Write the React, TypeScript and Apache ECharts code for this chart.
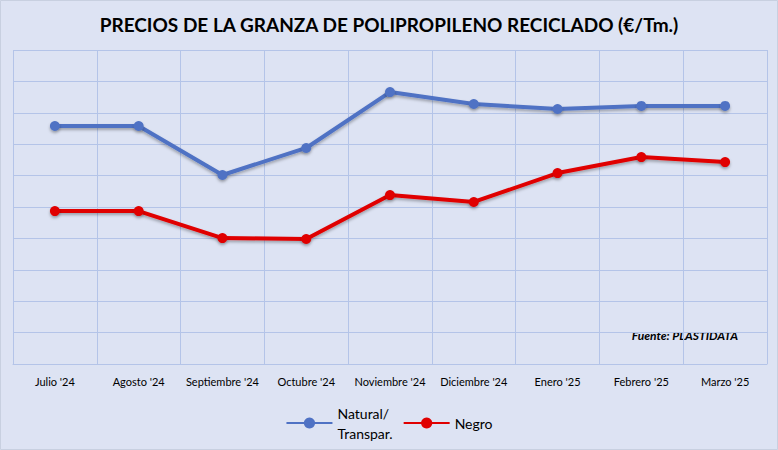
import React, { useEffect, useRef } from "react";
import * as echarts from "echarts";

const categories = ["Julio '24", "Agosto '24", "Septiembre '24", "Octubre '24", "Noviembre '24", "Diciembre '24", "Enero '25", "Febrero '25", "Marzo '25"];
const natural = [7.58, 7.58, 6.02, 6.88, 8.66, 8.28, 8.12, 8.22, 8.22];
const negro = [4.87, 4.87, 4.01, 3.98, 5.38, 5.16, 6.08, 6.59, 6.43];

export default function App() {
  const ref = useRef<HTMLDivElement>(null);
  useEffect(() => {
    document.body.style.margin = "0";
    const chart = echarts.init(ref.current!, null, { renderer: "svg" });
    const font = "Lato, 'Liberation Sans', sans-serif";
    const mk = (name: string, data: number[], color: string) => ({
      name, type: "line", data, color,
      symbol: "circle", symbolSize: 10,
      lineStyle: { width: 4, color, shadowColor: "rgba(0,0,0,0.3)", shadowBlur: 3, shadowOffsetY: 2 },
      itemStyle: { color, shadowColor: "rgba(0,0,0,0.3)", shadowBlur: 3, shadowOffsetY: 2 },
    });
    chart.setOption({
      animation: false,
      backgroundColor: "#dde3f3",
      textStyle: { fontFamily: font },
      title: { text: "PRECIOS DE LA GRANZA DE POLIPROPILENO RECICLADO (€/Tm.)", left: "center", top: 10,
        textStyle: { fontSize: 19, fontWeight: "bold", color: "#000", fontFamily: font } },
      grid: { left: 13, right: 11, top: 50, bottom: 86 },
      xAxis: { type: "category", data: categories, boundaryGap: true,
        axisLine: { lineStyle: { color: "#b4c4e8" } }, axisTick: { show: false },
        splitLine: { show: true, lineStyle: { color: "#b4c4e8" } },
        axisLabel: { color: "#000", fontSize: 11, margin: 12, interval: 0 } },
      yAxis: { type: "value", min: 0, max: 10, interval: 1, axisLabel: { show: false },
        axisLine: { show: false }, splitLine: { lineStyle: { color: "#b4c4e8" } } },
      legend: { top: 398, left: "center", itemWidth: 46, itemHeight: 14, itemGap: 10,
        textStyle: { fontSize: 14, color: "#000", lineHeight: 20 },
        data: [{ name: "Natural/\nTranspar." }, { name: "Negro" }] },
      graphic: [{ type: "text", right: 40, top: 329,
        style: { text: "Fuente: PLASTIDATA", font: `italic bold 12px ${font}`, fill: "#000" } },
        { type: "rect", shape: { x: 0.5, y: 0.5, width: 777, height: 449 }, style: { fill: "none", stroke: "#c8d0e0" } }],
      series: [mk("Natural/\nTranspar.", natural, "#4f72c4"), mk("Negro", negro, "#e00000")],
    });
    return () => chart.dispose();
  }, []);
  return <div ref={ref} style={{ width: 778, height: 450 }} />;
}
